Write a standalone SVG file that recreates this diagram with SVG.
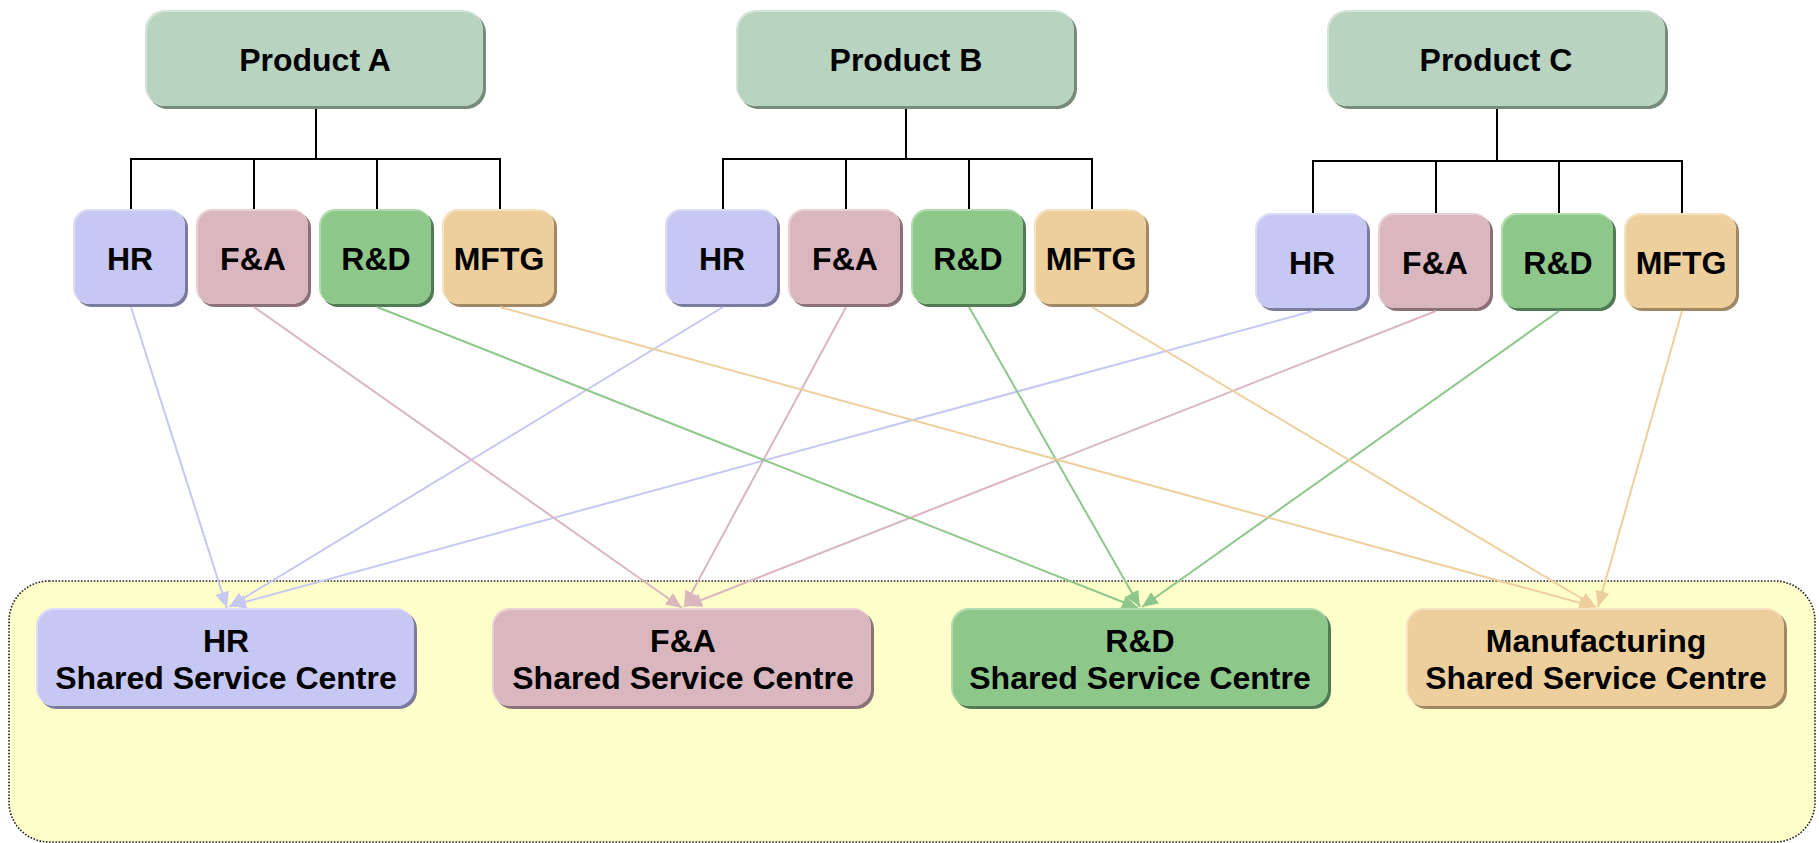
<svg xmlns="http://www.w3.org/2000/svg" width="1819" height="843" viewBox="0 0 1819 843">
<style>
text{font-family:"Liberation Sans",Arial,sans-serif;font-weight:bold;font-size:32px;fill:#000;text-anchor:middle}
.bar{stroke:#000;stroke-width:2;fill:none}
.c{stroke-width:2;fill:none}
.pS{fill:#768b7a}.pH{fill:#d3e4d8}.pF{fill:#b9d3c1}
.hS{fill:#7a7b9e}.hH{fill:#dcdcfa}.hF{fill:#c6c7f3}
.fS{fill:#8a7077}.fH{fill:#e8d0d5}.fF{fill:#dab7be}
.rS{fill:#507b55}.rH{fill:#b2dcaf}.rF{fill:#8ec78a}
.mS{fill:#9f8862}.mH{fill:#f6e2c0}.mF{fill:#edcf9d}
</style>
<defs>
<marker id="ah" markerUnits="userSpaceOnUse" markerWidth="17" markerHeight="14" refX="16" refY="7" orient="auto"><path d="M0,0 L16,7 L0,14 z" fill="#c6c7f3"/></marker>
<marker id="af" markerUnits="userSpaceOnUse" markerWidth="17" markerHeight="14" refX="16" refY="7" orient="auto"><path d="M0,0 L16,7 L0,14 z" fill="#dab7be"/></marker>
<marker id="ar" markerUnits="userSpaceOnUse" markerWidth="17" markerHeight="14" refX="16" refY="7" orient="auto"><path d="M0,0 L16,7 L0,14 z" fill="#8ec78a"/></marker>
<marker id="am" markerUnits="userSpaceOnUse" markerWidth="17" markerHeight="14" refX="16" refY="7" orient="auto"><path d="M0,0 L16,7 L0,14 z" fill="#edcf9d"/></marker>
</defs>
<rect width="1819" height="843" fill="#fff"/>
<g id="shared-services-area">
<rect x="9" y="581" width="1806" height="261" rx="40" fill="#ffffca" stroke="#222" stroke-width="1.6" stroke-dasharray="1.6 1.6"/>
</g>
<g id="org-lines">
<path class="bar" d="M316,109 V159 M131,209 V159 H500 V209 M254,159 V209 M377,159 V209"/>
<path class="bar" d="M906,109 V159 M723,209 V159 H1092 V209 M846,159 V209 M969,159 V209"/>
<path class="bar" d="M1497,109 V161 M1313,213 V161 H1682 V213 M1436,161 V213 M1559,161 V213"/>
</g>
<g id="product-a"><rect class="pS" x="148" y="13" width="338" height="96" rx="20"/><rect class="pH" x="145" y="10" width="338" height="96" rx="20"/><rect class="pF" x="147" y="12" width="336" height="94" rx="19"/><text x="315" y="71">Product A</text></g>
<g id="product-b"><rect class="pS" x="739" y="13" width="338" height="96" rx="20"/><rect class="pH" x="736" y="10" width="338" height="96" rx="20"/><rect class="pF" x="738" y="12" width="336" height="94" rx="19"/><text x="906" y="71">Product B</text></g>
<g id="product-c"><rect class="pS" x="1330" y="13" width="338" height="96" rx="20"/><rect class="pH" x="1327" y="10" width="338" height="96" rx="20"/><rect class="pF" x="1329" y="12" width="336" height="94" rx="19"/><text x="1496" y="71">Product C</text></g>

<g id="a-hr"><rect class="hS" x="76" y="212" width="112" height="95" rx="16"/><rect class="hH" x="73" y="209" width="112" height="95" rx="16"/><rect class="hF" x="75" y="211" width="110" height="93" rx="15"/><text x="130" y="270">HR</text></g>
<g id="a-fa"><rect class="fS" x="199" y="212" width="112" height="95" rx="16"/><rect class="fH" x="196" y="209" width="112" height="95" rx="16"/><rect class="fF" x="198" y="211" width="110" height="93" rx="15"/><text x="253" y="270">F&amp;A</text></g>
<g id="a-rd"><rect class="rS" x="322" y="212" width="112" height="95" rx="16"/><rect class="rH" x="319" y="209" width="112" height="95" rx="16"/><rect class="rF" x="321" y="211" width="110" height="93" rx="15"/><text x="376" y="270">R&amp;D</text></g>
<g id="a-mftg"><rect class="mS" x="445" y="212" width="112" height="95" rx="16"/><rect class="mH" x="442" y="209" width="112" height="95" rx="16"/><rect class="mF" x="444" y="211" width="110" height="93" rx="15"/><text x="499" y="270">MFTG</text></g>

<g id="b-hr"><rect class="hS" x="668" y="212" width="112" height="95" rx="16"/><rect class="hH" x="665" y="209" width="112" height="95" rx="16"/><rect class="hF" x="667" y="211" width="110" height="93" rx="15"/><text x="722" y="270">HR</text></g>
<g id="b-fa"><rect class="fS" x="791" y="212" width="112" height="95" rx="16"/><rect class="fH" x="788" y="209" width="112" height="95" rx="16"/><rect class="fF" x="790" y="211" width="110" height="93" rx="15"/><text x="845" y="270">F&amp;A</text></g>
<g id="b-rd"><rect class="rS" x="914" y="212" width="112" height="95" rx="16"/><rect class="rH" x="911" y="209" width="112" height="95" rx="16"/><rect class="rF" x="913" y="211" width="110" height="93" rx="15"/><text x="968" y="270">R&amp;D</text></g>
<g id="b-mftg"><rect class="mS" x="1037" y="212" width="112" height="95" rx="16"/><rect class="mH" x="1034" y="209" width="112" height="95" rx="16"/><rect class="mF" x="1036" y="211" width="110" height="93" rx="15"/><text x="1091" y="270">MFTG</text></g>

<g id="c-hr"><rect class="hS" x="1258" y="216" width="112" height="95" rx="16"/><rect class="hH" x="1255" y="213" width="112" height="95" rx="16"/><rect class="hF" x="1257" y="215" width="110" height="93" rx="15"/><text x="1312" y="274">HR</text></g>
<g id="c-fa"><rect class="fS" x="1381" y="216" width="112" height="95" rx="16"/><rect class="fH" x="1378" y="213" width="112" height="95" rx="16"/><rect class="fF" x="1380" y="215" width="110" height="93" rx="15"/><text x="1435" y="274">F&amp;A</text></g>
<g id="c-rd"><rect class="rS" x="1504" y="216" width="112" height="95" rx="16"/><rect class="rH" x="1501" y="213" width="112" height="95" rx="16"/><rect class="rF" x="1503" y="215" width="110" height="93" rx="15"/><text x="1558" y="274">R&amp;D</text></g>
<g id="c-mftg"><rect class="mS" x="1627" y="216" width="112" height="95" rx="16"/><rect class="mH" x="1624" y="213" width="112" height="95" rx="16"/><rect class="mF" x="1626" y="215" width="110" height="93" rx="15"/><text x="1681" y="274">MFTG</text></g>

<g id="connectors">
<line class="c" stroke="#c6c7f3" marker-end="url(#ah)" x1="131" y1="307" x2="227" y2="608"/>
<line class="c" stroke="#c6c7f3" marker-end="url(#ah)" x1="723" y1="307" x2="229" y2="607"/>
<line class="c" stroke="#c6c7f3" marker-end="url(#ah)" x1="1313" y1="311" x2="230" y2="606"/>
<line class="c" stroke="#dab7be" marker-end="url(#af)" x1="254" y1="307" x2="682" y2="608"/>
<line class="c" stroke="#dab7be" marker-end="url(#af)" x1="846" y1="307" x2="684" y2="607"/>
<line class="c" stroke="#dab7be" marker-end="url(#af)" x1="1436" y1="311" x2="686" y2="606"/>
<line class="c" stroke="#8ec78a" marker-end="url(#ar)" x1="377" y1="307" x2="1138" y2="608"/>
<line class="c" stroke="#8ec78a" marker-end="url(#ar)" x1="969" y1="307" x2="1140" y2="607"/>
<line class="c" stroke="#8ec78a" marker-end="url(#ar)" x1="1559" y1="311" x2="1142" y2="607"/>
<line class="c" stroke="#edcf9d" marker-end="url(#am)" x1="500" y1="307" x2="1595" y2="607"/>
<line class="c" stroke="#edcf9d" marker-end="url(#am)" x1="1092" y1="307" x2="1596" y2="607"/>
<line class="c" stroke="#edcf9d" marker-end="url(#am)" x1="1682" y1="311" x2="1598" y2="607"/>
</g>

<g id="hr-ssc"><rect class="hS" x="39" y="611" width="378" height="98" rx="18"/><rect class="hH" x="36" y="608" width="378" height="98" rx="18"/><rect class="hF" x="38" y="610" width="376" height="96" rx="17"/><text x="226" y="652">HR</text><text x="226" y="689">Shared Service Centre</text></g>
<g id="fa-ssc"><rect class="fS" x="495" y="611" width="379" height="98" rx="18"/><rect class="fH" x="492" y="608" width="379" height="98" rx="18"/><rect class="fF" x="494" y="610" width="377" height="96" rx="17"/><text x="683" y="652">F&amp;A</text><text x="683" y="689">Shared Service Centre</text></g>
<g id="rd-ssc"><rect class="rS" x="954" y="611" width="377" height="98" rx="18"/><rect class="rH" x="951" y="608" width="377" height="98" rx="18"/><rect class="rF" x="953" y="610" width="375" height="96" rx="17"/><text x="1140" y="652">R&amp;D</text><text x="1140" y="689">Shared Service Centre</text></g>
<g id="mfg-ssc"><rect class="mS" x="1409" y="611" width="378" height="98" rx="18"/><rect class="mH" x="1406" y="608" width="378" height="98" rx="18"/><rect class="mF" x="1408" y="610" width="376" height="96" rx="17"/><text x="1596" y="652">Manufacturing</text><text x="1596" y="689">Shared Service Centre</text></g>
</svg>
